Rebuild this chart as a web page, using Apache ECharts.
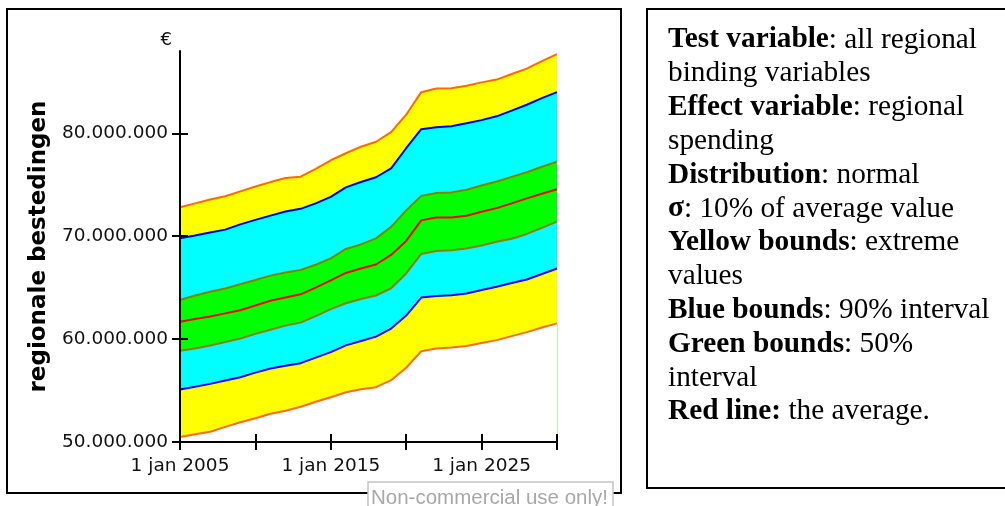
<!DOCTYPE html>
<html>
<head>
<meta charset="utf-8">
<script src="https://cdn.jsdelivr.net/npm/echarts@6/dist/echarts.min.js"></script>
<style>
html,body{margin:0;padding:0;background:#fff;}
#c{width:1005px;height:506px;}
</style>
</head>
<body>
<div id="c"></div>
<script>
// ---- data (values in millions of euro) ----
const years = [2005,2006,2007,2008,2009,2010,2011,2012,2013,2014,2015,2016,2017,2018,2019,2020,2021,2022,2023,2024,2025,2026,2027,2028,2029,2030];
const upperExtreme = [72.82,73.19,73.56,73.88,74.36,74.83,75.26,75.65,75.79,76.55,77.38,78.06,78.70,79.18,80.11,81.81,84.00,84.36,84.39,84.63,84.95,85.22,85.77,86.29,87.02,87.70];
const upper90      = [69.81,70.07,70.36,70.64,71.15,71.59,72.00,72.41,72.66,73.19,73.83,74.75,75.27,75.73,76.60,78.55,80.40,80.59,80.69,80.98,81.28,81.65,82.20,82.78,83.42,84.00];
const upper50      = [63.80,64.24,64.60,64.92,65.33,65.74,66.17,66.48,66.72,67.23,67.85,68.76,69.20,69.79,70.91,72.51,73.92,74.19,74.26,74.51,74.93,75.32,75.77,76.21,76.75,77.23];
const average      = [61.68,61.95,62.19,62.50,62.80,63.26,63.72,64.04,64.35,65.00,65.71,66.43,66.86,67.25,68.18,69.54,71.54,71.81,71.81,71.98,72.37,72.73,73.19,73.68,74.12,74.56];
const lower50      = [58.86,59.09,59.37,59.71,60.05,60.51,60.91,61.31,61.60,62.24,62.92,63.48,63.89,64.24,64.94,66.38,68.28,68.57,68.64,68.81,69.10,69.47,69.76,70.22,70.81,71.42];
const lower90      = [55.10,55.37,55.65,55.98,56.30,56.74,57.15,57.42,57.66,58.20,58.73,59.39,59.81,60.24,61.02,62.29,64.04,64.19,64.26,64.43,64.77,65.09,65.45,65.79,66.33,66.86];
const lowerExtreme = [50.49,50.75,50.99,51.47,51.92,52.31,52.75,53.04,53.43,53.91,54.35,54.84,55.13,55.33,56.01,57.22,58.83,59.09,59.19,59.34,59.63,59.90,60.29,60.68,61.12,61.53];

const yTickValues = [50000000, 60000000, 70000000, 80000000];
const xTickEvery = 5;      // a tick every 5 years
const xLabelEvery = 10;    // a label every 10 years
const yAxisTitle = 'regionale bestedingen';
const yUnit = '€';
const infoLines = [
  ['Test variable', ': all regional'],
  ['', 'binding variables'],
  ['Effect variable', ': regional'],
  ['', 'spending'],
  ['Distribution', ': normal'],
  ['σ', ': 10% of average value'],
  ['Yellow bounds', ': extreme'],
  ['', 'values'],
  ['Blue bounds', ': 90% interval'],
  ['Green bounds', ': 50%'],
  ['', 'interval'],
  ['Red line:', ' the average.']
];
const watermark = 'Non-commercial use only!';

// ---- build ----
const M = 1e6;
const vals = a => a.map(v => v * M);
const diff = (a, b) => a.map((v, i) => (v - b[i]) * M);
const fmt = v => String(Math.round(v)).replace(/\B(?=(\d{3})+(?!\d))/g, '.');
const cats = years.map(String);

const band = (data, color) => {
  const s = {
    type: 'line', stack: 'band', symbol: 'none', silent: true, z: 2,
    lineStyle: { width: 0, opacity: 0 },
    data: data
  };
  if (color) s.areaStyle = { color: color, opacity: 1 };
  return s;
};
const line = (data, color, extra) => Object.assign({
  type: 'line', symbol: 'none', silent: true, z: 3,
  lineStyle: { color: color, width: 2 },
  data: data
}, extra || {});

const axisBlack = { color: '#000', width: 2 };
const tickFont = { color: '#111', fontFamily: 'DejaVu Sans', fontSize: 18.5 };

const richText = infoLines.map(l => (l[0] ? '{b|' + l[0] + '}' : '') + '{r|' + l[1] + '}').join('\n');
const lastIdx = years.length - 1;

const chart = echarts.init(document.getElementById('c'), null, { renderer: 'canvas' });
chart.setOption({
  animation: false,
  backgroundColor: '#fff',
  grid: { left: 180, right: 448, top: 51, bottom: 64, containLabel: false },
  xAxis: [
    {
      type: 'category', data: cats, boundaryGap: false, position: 'bottom', z: 10,
      axisLine: { show: true, onZero: false, lineStyle: axisBlack },
      axisTick: { show: true, interval: xTickEvery - 1, length: 8, lineStyle: axisBlack },
      splitLine: { show: false },
      axisLabel: Object.assign({ interval: xLabelEvery - 1, formatter: v => '1 jan ' + v, margin: 15 }, tickFont)
    },
    {
      type: 'category', data: cats, boundaryGap: false, position: 'bottom', z: 10,
      axisLine: { show: false, onZero: false },
      axisTick: { show: true, interval: xTickEvery - 1, inside: true, length: 8, lineStyle: axisBlack },
      splitLine: { show: false },
      axisLabel: { show: false }
    }
  ],
  yAxis: [
    {
      type: 'value', min: 50 * M, max: 88 * M, interval: 10 * M, position: 'left', z: 10,
      name: yUnit, nameLocation: 'end', nameGap: 2,
      nameTextStyle: { color: '#111', fontFamily: 'DejaVu Sans', fontSize: 18, align: 'right', padding: [0, 8, 0, 0] },
      axisLine: { show: true, onZero: false, lineStyle: axisBlack },
      axisTick: { show: true, customValues: yTickValues, length: 8, lineStyle: axisBlack },
      splitLine: { show: false },
      axisLabel: Object.assign({ customValues: yTickValues, formatter: fmt, margin: 12 }, tickFont)
    },
    {
      type: 'value', min: 50 * M, max: 88 * M, interval: 10 * M, position: 'left', z: 10,
      name: yAxisTitle, nameLocation: 'middle', nameGap: 129, nameRotate: 90,
      nameTextStyle: { color: '#000', fontFamily: 'DejaVu Sans', fontWeight: 'bold', fontSize: 23 },
      axisLine: { show: false, onZero: false },
      axisTick: { show: true, inside: true, customValues: yTickValues, length: 8, lineStyle: axisBlack },
      splitLine: { show: false },
      axisLabel: { show: false }
    }
  ],
  series: [
    band(vals(lowerExtreme), null),
    band(diff(lower90, lowerExtreme), '#ffff00'),
    band(diff(lower50, lower90), '#00ffff'),
    band(diff(upper50, lower50), '#00ff00'),
    band(diff(upper90, upper50), '#00ffff'),
    band(diff(upperExtreme, upper90), '#ffff00'),
    line(vals(lowerExtreme), '#ff6a00', {
      markLine: {
        symbol: 'none', silent: true, label: { show: false },
        lineStyle: { color: '#c6f0a6', width: 1, type: 'solid' },
        data: [[{ coord: [lastIdx, 50 * M] }, { coord: [lastIdx, lowerExtreme[lastIdx] * M] }]]
      }
    }),
    line(vals(lower90), '#0000ff'),
    line(vals(lower50), '#8a8000'),
    line(vals(average), '#ff0000'),
    line(vals(upper50), '#8a8000'),
    line(vals(upper90), '#0000ff'),
    line(vals(upperExtreme), '#ff6a00')
  ],
  graphic: [
    { type: 'rect', z: 0, silent: true, shape: { x: 7, y: 9, width: 614, height: 484 }, style: { fill: 'none', stroke: '#000', lineWidth: 2 } },
    { type: 'rect', z: 0, silent: true, shape: { x: 647, y: 9, width: 400, height: 479 }, style: { fill: '#fff', stroke: '#000', lineWidth: 2 } },
    {
      type: 'text', z: 10, silent: true, x: 668, y: 23,
      style: {
        text: richText, fill: '#000', verticalAlign: 'top', align: 'left',
        rich: {
          b: { fontFamily: 'Liberation Serif', fontWeight: 'bold', fontSize: 29.3, lineHeight: 33.8, fill: '#000' },
          r: { fontFamily: 'Liberation Serif', fontWeight: 'normal', fontSize: 29.3, lineHeight: 33.8, fill: '#000' }
        }
      }
    },
    { type: 'rect', z: 20, silent: true, shape: { x: 368, y: 482, width: 245, height: 30 }, style: { fill: '#fff', stroke: '#c4c4c4', lineWidth: 1.5 } },
    {
      type: 'text', z: 21, silent: true, x: 371, y: 498,
      style: { text: watermark, fill: '#a8a8a8', font: '20.5px "Liberation Sans"', verticalAlign: 'middle', align: 'left' }
    }
  ]
});
</script>
</body>
</html>
